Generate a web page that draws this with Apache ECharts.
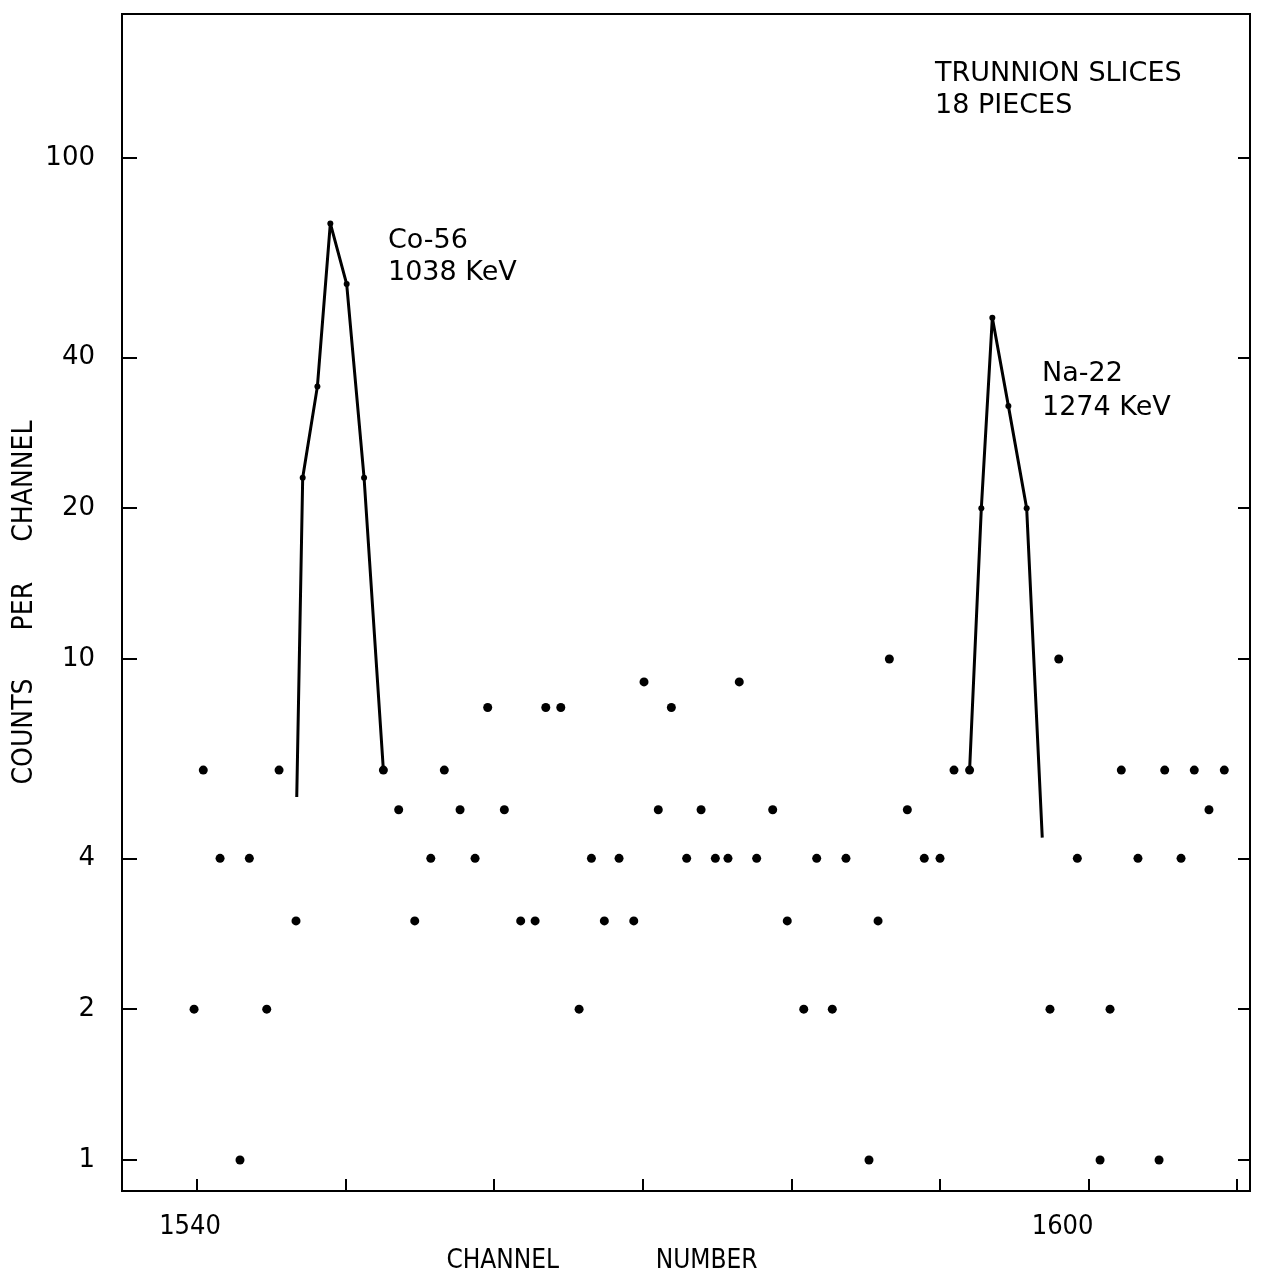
<!DOCTYPE html>
<html>
<head>
<meta charset="utf-8">
<script src="https://cdn.jsdelivr.net/npm/echarts@6/dist/echarts.min.js"></script>
<style>
html,body{margin:0;padding:0;background:#fff;}
#chart{width:1265px;height:1277px;}
</style>
</head>
<body>
<div id="chart"></div>
<script>
// Background channel counts (scatter dots)
const bgChannels = [1539.80,1540.42,1541.55,1542.89,1543.52,1544.69,1545.52,1546.66,1552.54,1553.57,
  1554.65,1555.73,1556.64,1557.70,1558.71,1559.56,1560.68,1561.78,1562.75,1563.47,
  1564.48,1565.71,1566.54,1567.41,1568.40,1569.39,1570.08,1571.04,1571.92,1572.95,
  1573.92,1574.88,1575.73,1576.49,1577.66,1578.74,1579.72,1580.83,1581.70,1582.75,
  1583.67,1585.22,1585.83,1586.59,1587.80,1588.94,1590.00,1590.94,1591.99,1597.40,
  1597.99,1599.24,1600.77,1601.44,1602.20,1603.32,1604.74,1605.12,1606.22,1607.11,
  1608.10,1609.13];
const bgCounts = [2,6,4,1,4,2,6,3,6,5,
  3,4,6,5,4,8,5,3,3,8,
  8,2,4,3,4,3,9,5,8,4,
  5,4,4,9,4,5,3,2,4,2,
  4,1,3,10,5,4,4,6,6,2,
  10,4,1,2,6,4,1,6,4,6,
  5,6];
// Co-56 peak (1038 KeV)
const coChannels = [1546.71,1547.11,1548.10,1548.97,1550.07,1551.24,1552.54];
const coCounts   = [5.3,23,35,74,56,23,6];
// Na-22 peak (1274 KeV)
const naChannels = [1591.99,1592.78,1593.52,1594.60,1595.83,1596.88];
const naCounts   = [6,20,48,32,20,4.4];
// Axis ticks / labels
const yTicks = [1,2,4,10,20,40,100];
const xTicks = [1540,1550,1560,1570,1580,1590,1600,1610];
const xLabels = [1540,1600];

const narrow = "'DejaVu Sans Condensed','Liberation Sans Narrow','Liberation Sans',sans-serif";
const round = "'DejaVu Sans','Liberation Sans',sans-serif";

function peakData(xs, ys){
  return xs.map((x,i)=>{
    const item = {value:[x, ys[i]]};
    if(i===0 || i===xs.length-1) item.symbol = 'none';
    return item;
  });
}

const chart = echarts.init(document.getElementById('chart'), null, {renderer:'canvas'});
chart.setOption({
  backgroundColor:'#fff',
  animation:false,
  grid:{left:122,right:15,top:14,bottom:86,containLabel:false,outerBoundsMode:'none',
    show:true,borderColor:'#000',borderWidth:2,backgroundColor:'transparent'},
  xAxis:{
    type:'value', min:1534.95, max:1610.86,
    name:'CHANNEL             NUMBER', nameLocation:'middle', nameGap:57,
    nameTextStyle:{fontFamily:narrow,fontSize:26,color:'#000',padding:[0,168,0,0]},
    axisLine:{show:true,onZero:false,lineStyle:{color:'#000',width:2}},
    axisTick:{show:true,inside:true,length:12,customValues:xTicks,lineStyle:{color:'#000',width:2}},
    axisLabel:{show:true,customValues:xLabels,margin:22,fontFamily:narrow,fontSize:27,color:'#000',
      formatter:function(v){return v===1600?'{s|'+v+'}':'{n|'+v+'}';},
      rich:{n:{fontFamily:narrow,fontSize:27,color:'#000',padding:[0,14,0,0]},
            s:{fontFamily:narrow,fontSize:27,color:'#000',padding:[0,52,0,0]}}},
    splitLine:{show:false}
  },
  yAxis:[{
    type:'log', logBase:10, min:0.867, max:193.8,
    name:'COUNTS      PER     CHANNEL', nameLocation:'middle', nameGap:97, nameRotate:90,
    nameMoveOverlap:false,
    nameTextStyle:{fontFamily:narrow,fontSize:28,color:'#000',verticalAlign:'middle'},
    axisLine:{show:true,lineStyle:{color:'#000',width:2}},
    axisTick:{show:true,inside:true,length:15,customValues:yTicks,lineStyle:{color:'#000',width:2}},
    axisLabel:{show:true,customValues:yTicks,margin:27,fontFamily:round,fontSize:26,color:'#000'},
    splitLine:{show:false}
  },{
    type:'log', logBase:10, min:0.867, max:193.8, position:'right',
    axisLine:{show:true,lineStyle:{color:'#000',width:2}},
    axisTick:{show:true,inside:true,length:12,customValues:yTicks,lineStyle:{color:'#000',width:2}},
    axisLabel:{show:false},
    splitLine:{show:false}
  }],
  series:[
    {type:'line', name:'Co-56', data:peakData(coChannels,coCounts), symbol:'circle', symbolSize:6,
      lineStyle:{color:'#000',width:3}, itemStyle:{color:'#000',opacity:1}, z:3},
    {type:'line', name:'Na-22', data:peakData(naChannels,naCounts), symbol:'circle', symbolSize:6,
      lineStyle:{color:'#000',width:3}, itemStyle:{color:'#000',opacity:1}, z:3},
    {type:'scatter', name:'background', data:bgChannels.map((x,i)=>[x,bgCounts[i]]),
      symbol:'circle', symbolSize:9, itemStyle:{color:'#000',opacity:1}, z:4}
  ],
  graphic:[
    {type:'text', left:935, top:58, style:{text:'TRUNNION SLICES\n18 PIECES', font:"27px 'DejaVu Sans',sans-serif", fill:'#000', lineHeight:32}},
    {type:'text', left:388, top:225, style:{text:'Co-56\n1038 KeV', font:"27px 'DejaVu Sans',sans-serif", fill:'#000', lineHeight:32}},
    {type:'text', left:1042, top:357, style:{text:'Na-22\n1274 KeV', font:"27px 'DejaVu Sans',sans-serif", fill:'#000', lineHeight:34}}
  ]
});
</script>
</body>
</html>
